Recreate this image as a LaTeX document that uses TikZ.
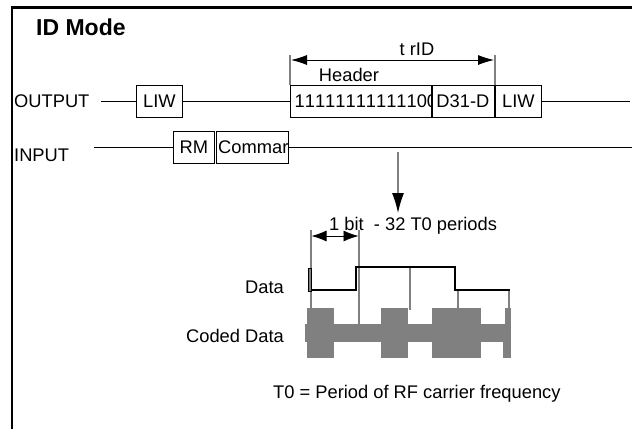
\documentclass[tikz,border=0pt]{standalone}
\usepackage{fontspec}
\setmainfont{Liberation Sans}
\newfontfamily\digitfont[Kerning=Off]{Liberation Sans}
\usetikzlibrary{arrows.meta}
\begin{document}
\begin{tikzpicture}[x=1pt,y=-1pt,
  every node/.style={font=\fontsize{18.3}{20}\selectfont,inner sep=0pt},
  cell/.style={draw,line width=.8pt,minimum height=32pt,anchor=west},
  wire/.style={line width=.8pt},
  tick/.style={draw=black!50,line width=1.2pt},
  dim/.style={line width=.8pt,{Latex[length=16pt,width=10pt]}-{Latex[length=16pt,width=10pt]}},
  coded/.style={fill=black!50,draw=none}]
\useasboundingbox (0,0) rectangle (632,429);
\draw [line width=2.5pt] (12,429) -- (12,7.5) -- (632,7.5);
\node (title) [anchor=west,font=\fontsize{23}{25}\selectfont\bfseries] at (36,27) {ID Mode};
\node (output) [anchor=west] at (14,101) {OUTPUT};
\node (input) [anchor=west] at (14,155) {INPUT};
\coordinate (outstart) at (101,101.5);
\coordinate (outend) at (630,101.5);
\coordinate (instart) at (94,147.5);
\coordinate (inend) at (632,147.5);
\node (liwa) [cell,minimum width=46pt] at (136,101.5) {LIW};
\node (header) [cell,minimum width=141pt] at (290,101.5) {};
\node (dbits) [cell,minimum width=62pt] at (431.5,101.5) {D31-D};
\node (liwb) [cell,minimum width=46pt] at (495,101.5) {LIW};
\node (rm) [cell,minimum width=41pt] at (173,147.5) {RM};
\node (command) [cell,minimum width=72pt] at (216,147.5) {};
\begin{scope}
\clip (290,86) rectangle (431,118);
\node (ones) [anchor=west] at (294.5,101.5) {\digitfont 11111111111100};
\end{scope}
\node (cmdtext) [anchor=west] at (218,147) {Commar};
\draw [wire] (outstart) -- (liwa);
\draw [wire] (liwa) -- (header);
\draw [wire] (liwb) -- (outend);
\draw [wire] (instart) -- (rm);
\draw [wire] (command) -- (inend);
\coordinate (ta) at (290,55);
\coordinate (tb) at (290,85);
\coordinate (tc) at (495,55);
\coordinate (td) at (495,85);
\draw [tick] (ta) -- (tb);
\draw [tick] (tc) -- (td);
\coordinate (tl) at (291,60);
\coordinate (tr) at (494,60);
\draw [dim] (tl) -- (tr);
\node (trid) at (417,49) {t rID};
\node (headtext) at (349,75) {Header};
\coordinate (downa) at (398,152);
\coordinate (downb) at (398,213);
\draw [tick,-{Latex[length=20pt,width=12pt,black]}] (downa) -- (downb);
\node (bit) [anchor=west] at (329,225.5) {1 bit\ \ - 32 T0 periods};
\draw [coded] (305,324) rectangle (511,341.5);
\draw [coded] (307,308) rectangle (333.5,357.5);
\draw [coded] (381,308) rectangle (407.5,357.5);
\draw [coded] (431.5,308) rectangle (481,357.5);
\draw [coded] (505,308) rectangle (511,341.5);
\draw [coded] (503,341.5) rectangle (511,357.5);
\draw [tick] (311,230) -- (311,308);
\draw [tick] (359,230) -- (359,325);
\draw [tick] (410,267) -- (410,310);
\draw [tick] (458,290) -- (458,308);
\draw [tick] (509,290) -- (509,308);
\coordinate (bl) at (311.5,236);
\coordinate (br) at (358.5,236);
\draw [line width=.8pt,{Latex[length=15pt,width=11pt]}-{Latex[length=15pt,width=11pt]}] (bl) -- (br);
\draw [line width=1.3pt] (310,290) -- (356,290) -- (356,267) -- (455,267) -- (455,290) -- (510,290);
\draw [line width=.8pt,fill=black!50] (308.5,268) rectangle (311.5,291.5);
\node (data) [anchor=east] at (284,287) {Data};
\node (codedtext) [anchor=east] at (284,336) {Coded Data};
\node (note) [anchor=west] at (273,393.5) {T0 = Period of RF carrier frequency};
\end{tikzpicture}
\end{document}
